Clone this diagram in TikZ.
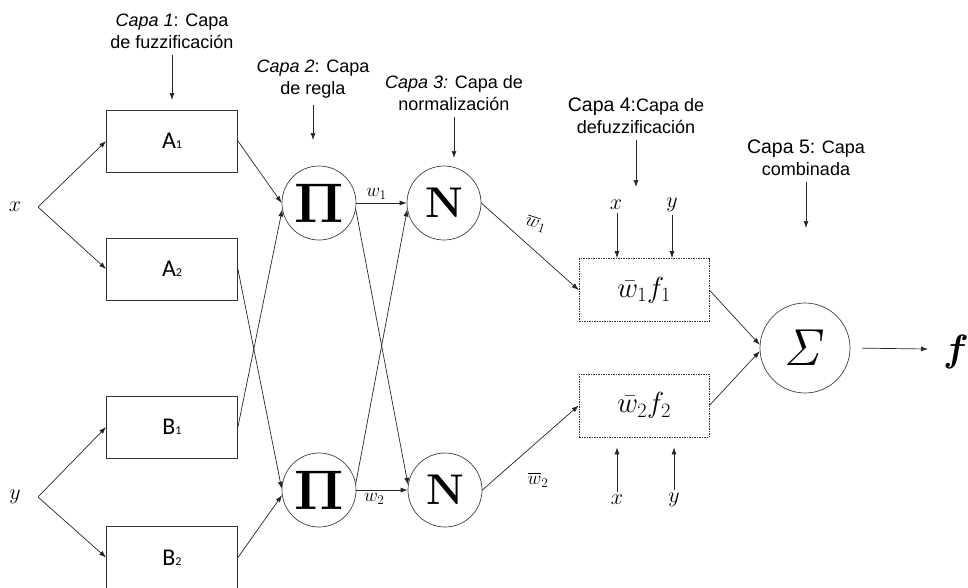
\RequirePackage{fix-cm}
\documentclass[tikz,border=0pt]{standalone}
\usepackage{amsmath}
\usepackage{bm}
\usepackage[no-math]{fontspec}
\setmainfont{Liberation Sans}
\newfontfamily\carlito{Carlito}
\usetikzlibrary{arrows.meta}

\begin{document}
\begin{tikzpicture}[x=1pt,y=-1pt]
\tikzset{fuzzbox/.style={draw=black!80,line width=0.8pt,minimum width=131pt,minimum height=62pt,font=\carlito\fontsize{24}{24}\selectfont}}
\tikzset{defuzzbox/.style={draw=black!80,line width=0.7pt,dash pattern=on 1.5pt off 1pt,minimum width=130pt,minimum height=63pt,font=\fontsize{29}{29}\selectfont}}
\tikzset{opnode/.style={draw=black!75,line width=0.7pt,circle,minimum size=74pt,inner sep=0pt}}
\tikzset{layerlabel/.style={align=center,font=\fontsize{18}{22}\selectfont}}
\tikzset{varlabel/.style={font=\fontsize{22}{22}\selectfont}}
\tikzset{wlabel/.style={font=\fontsize{19}{19}\selectfont}}
\tikzset{conn/.style={-{Latex[length=7pt,width=5pt]},line width=0.7pt,draw=black!85}}

\useasboundingbox (0,0) rectangle (968,587);

% capas
\node[layerlabel] (capa1) at (172,31) {\textit{Capa 1}: Capa\\de fuzzificación};
\node[layerlabel] (capa2) at (313,79) {\textit{Capa 2}: Capa\\de regla};
\node[layerlabel] (capa3) at (454,93) {\textit{Capa 3:} Capa de\\normalización};
\node[layerlabel] (capa4) at (636,116) {{\fontsize{19.5}{22}\selectfont Capa 4:}Capa de\\defuzzificación};
\node[layerlabel] (capa5) at (806,158) {{\fontsize{19.5}{22}\selectfont Capa 5:} Capa\\combinada};
\coordinate (c1) at (172,100);
\coordinate (c2) at (313,140);
\coordinate (c3) at (454,158);
\coordinate (c4) at (636,187);
\coordinate (c5) at (806,228);

% entradas
\node[varlabel] (x) at (15,207) {$x$};
\node[varlabel] (y) at (15,497) {$y$};
\coordinate (xs) at (38,207);
\coordinate (ys) at (38,497);

% capa 1
\node[fuzzbox] (A1) at (172,141) {A{\fontsize{12}{12}\selectfont 1}};
\node[fuzzbox] (A2) at (172,269) {A{\fontsize{12}{12}\selectfont 2}};
\node[fuzzbox] (B1) at (172,427) {B{\fontsize{12}{12}\selectfont 1}};
\node[fuzzbox] (B2) at (172,557.5) {B{\fontsize{12}{12}\selectfont 2}};

% capa 2 y 3
\node[opnode] (P1) at (319,203) {\fontsize{56}{56}\selectfont$\mathbf{\Pi}$};
\node[opnode] (P2) at (319,490) {\fontsize{56}{56}\selectfont$\mathbf{\Pi}$};
\node[opnode] (N1) at (444,203) {\fontsize{43}{43}\selectfont$\mathbf{N}$};
\node[opnode] (N2) at (445,490) {\fontsize{43}{43}\selectfont$\mathbf{N}$};

% capa 4
\node[defuzzbox] (D1) at (644,290) {$\bar{w}_1 f_1$};
\node[defuzzbox] (D2) at (644,405.5) {$\bar{w}_2 f_2$};
\node[varlabel] (x3) at (616,205) {$x$};
\node[varlabel] (y3) at (672,205) {$y$};
\node[varlabel] (x4) at (617,500) {$x$};
\node[varlabel] (y4) at (674,500) {$y$};

% capa 5
\node[opnode,minimum size=90pt] (S) at (805,348) {\fontsize{52}{52}\selectfont$\mathit{\Sigma}$};
\node[font=\fontsize{38}{38}\selectfont] (f) at (956,352) {$\bm{f}$};
\coordinate (cf) at (928,349);

% flechas de las capas
\draw[conn] ([yshift=-3pt]capa1.south) -- (c1);
\draw[conn] ([yshift=-3pt]capa2.south) -- (c2);
\draw[conn] ([yshift=-3pt]capa3.south) -- (c3);
\draw[conn] ([yshift=-3pt]capa4.south) -- (c4);
\draw[conn] ([yshift=-3pt]capa5.south) -- (c5);

% entradas a la capa 1
\draw[conn] (xs) -- (A1.west);
\draw[conn] (xs) -- (A2.west);
\draw[conn] (ys) -- (B1.west);
\draw[conn] (ys) -- (B2.west);

% capa 1 a capa 2
\draw[conn] (A1.east) -- (P1.west);
\draw[conn] (B1.east) -- (P1.190);
\draw[conn] (A2.east) -- (P2.178);
\draw[conn] (B2.east) -- (P2.188);

% capa 2 a capa 3
\draw[conn] (P1.east) -- node[wlabel,above,pos=0.4] (w1) {$w_1$} (N1.west);
\draw[conn] (P1.-10) -- (N2.172);
\draw[conn] (P2.10) -- (N1.-170);
\draw[conn] (P2.east) -- node[wlabel,below,pos=0.35] (w2) {$w_2$} (N2.west);

% capa 3 a capa 4
\draw[conn] (N1.east) -- (D1.west);
\draw[conn] (N2.east) -- (D2.west);
\node[wlabel,rotate=-18] (wb1) at (536,224) {$\overline{w}_1$};
\node[wlabel] (wb2) at (538,480) {$\overline{w}_2$};
\draw[conn] ([xshift=1pt]x3.south) -- ([xshift=1pt]x3.south |- D1.north);
\draw[conn] (y3.south) -- (y3.south |- D1.north);
\draw[conn,shorten >=10pt] (x4.north) -- (x4.north |- D2.south);
\draw[conn,shorten >=10pt] (y4.north) -- (y4.north |- D2.south);

% capa 4 a capa 5
\draw[conn] (D1.east) -- (S.176);
\draw[conn] (D2.east) -- (S.184);
\draw[conn,shorten <=12pt] (S.east) -- (cf);

\end{tikzpicture}
\end{document}
